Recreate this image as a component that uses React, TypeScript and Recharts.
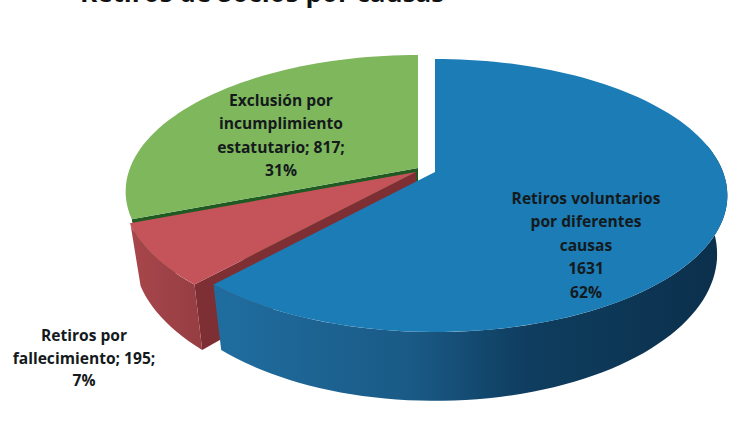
import React from "react";
import { PieChart, Pie } from "recharts";

const categories = ["Exclusión por incumplimiento estatutario", "Retiros por fallecimiento", "Retiros voluntarios por diferentes causas"];
const values = [817, 195, 1631];
const labelLines = [
  ["Exclusión por", "incumplimiento", "estatutario; 817;", "31%"],
  ["Retiros por", "fallecimiento; 195;", "7%"],
  ["Retiros voluntarios", "por diferentes", "causas", "1631", "62%"],
];
const title = "Retiros de Socios por causas";

const topColors = ["#7fb75d", "#c5545a", "#1b7cb6"];
const wallFills = ["#2a6a2c", "url(#redWall)", "url(#blueWall)"];
const faceColors = ["#1f5a22", "#7e2f33", "#17537c"];
const explode = [[-15, -4], [-17, 0], [2, 0]];
const labelAnchors = [[281, 101], [84, 336], [586, 199]];
const LINE_STEP = [23.3, 22.5, 23.4];

const SQUASH = 0.46;
const PERSP = 0.172;
const DEPTH = 57;
const FLOOR_SCALE = 0.965;

const data = categories.map((name, i) => ({ name, value: values[i], idx: i }));

function project(cx: number, cy: number, R: number, deg: number, drop = 0) {
  const a = (deg * Math.PI) / 180;
  const u = Math.cos(a);
  const v = Math.sin(a);
  const s = 1 / (1 + PERSP * v);
  const k = drop ? FLOOR_SCALE : 1;
  return [cx + R * u * s * k, cy - R * SQUASH * v * s + drop * s];
}

function arc(cx: number, cy: number, R: number, a0: number, a1: number, drop = 0) {
  const out: number[][] = [];
  const n = Math.max(2, Math.ceil(Math.abs(a1 - a0) / 2));
  for (let i = 0; i <= n; i++) out.push(project(cx, cy, R, a0 + ((a1 - a0) * i) / n, drop));
  return out;
}
const toPath = (pts: number[][]) => "M" + pts.map((p) => p[0].toFixed(1) + "," + p[1].toFixed(1)).join("L") + "Z";

function Slice3D(props: any) {
  const { cx, cy, outerRadius: R, startAngle, endAngle, idx } = props;
  const i = idx ?? props.payload?.idx ?? 0;
  const ox = cx + explode[i][0];
  const oy = cy + explode[i][1];
  const a0 = Math.min(startAngle, endAngle);
  const a1 = Math.max(startAngle, endAngle);
  const top = [[ox, oy], ...arc(ox, oy, R, a0, a1)];
  const face = [[ox, oy], project(ox, oy, R, a1), project(ox, oy, R, a1, DEPTH), [ox, oy + DEPTH]];
  const w0 = Math.max(a0, 202);
  const w1 = Math.min(a1, 372);
  return (
    <g>
      <path d={toPath(face)} fill={faceColors[i]} />
      {w1 > w0 && (
        <path d={toPath([...arc(ox, oy, R, w0, w1), ...arc(ox, oy, R, w1, w0, DEPTH)])} fill={wallFills[i]} />
      )}
      <path d={toPath(top)} fill={topColors[i]} />
    </g>
  );
}

function SliceLabel(props: any) {
  const i = props.idx ?? props.payload?.idx ?? props.index;
  const [x, y] = labelAnchors[i];
  return (
    <text textAnchor="middle" fontFamily="'Open Sans', sans-serif" fontWeight={700} fontSize={15.6} fill="#141a1c">
      {labelLines[i].map((line, k) => (
        <tspan key={k} x={x} y={y + 5 + k * LINE_STEP[i]}>{line}</tspan>
      ))}
    </text>
  );
}

export default function App() {
  return (
    <div style={{ position: "absolute", left: 0, top: 0, width: 749, height: 426, background: "#fff", overflow: "hidden" }}>
      <PieChart width={749} height={426} margin={{ top: 0, right: 0, bottom: 0, left: 0 }}>
        <defs>
          <linearGradient id="blueWall" gradientUnits="userSpaceOnUse" x1="220" y1="0" x2="725" y2="0">
            <stop offset="0" stopColor="#1f6d9f" />
            <stop offset="0.38" stopColor="#1a5a86" />
            <stop offset="0.6" stopColor="#0f3e60" />
            <stop offset="1" stopColor="#0b2f4b" />
          </linearGradient>
          <linearGradient id="redWall" gradientUnits="userSpaceOnUse" x1="130" y1="0" x2="200" y2="0">
            <stop offset="0" stopColor="#a8464b" />
            <stop offset="1" stopColor="#963e43" />
          </linearGradient>
        </defs>
        <Pie
          data={data}
          dataKey="value"
          nameKey="name"
          cx={433}
          cy={172}
          innerRadius={0}
          outerRadius={288}
          startAngle={90}
          endAngle={450}
          paddingAngle={0}
          stroke="none"
          shape={Slice3D}
          label={SliceLabel}
          labelLine={false}
          isAnimationActive={false}
        />
        <text x={80} y={2} fontFamily="'Open Sans', sans-serif" fontWeight={700} fontSize={26} fill="#111">{title}</text>
      </PieChart>
    </div>
  );
}
